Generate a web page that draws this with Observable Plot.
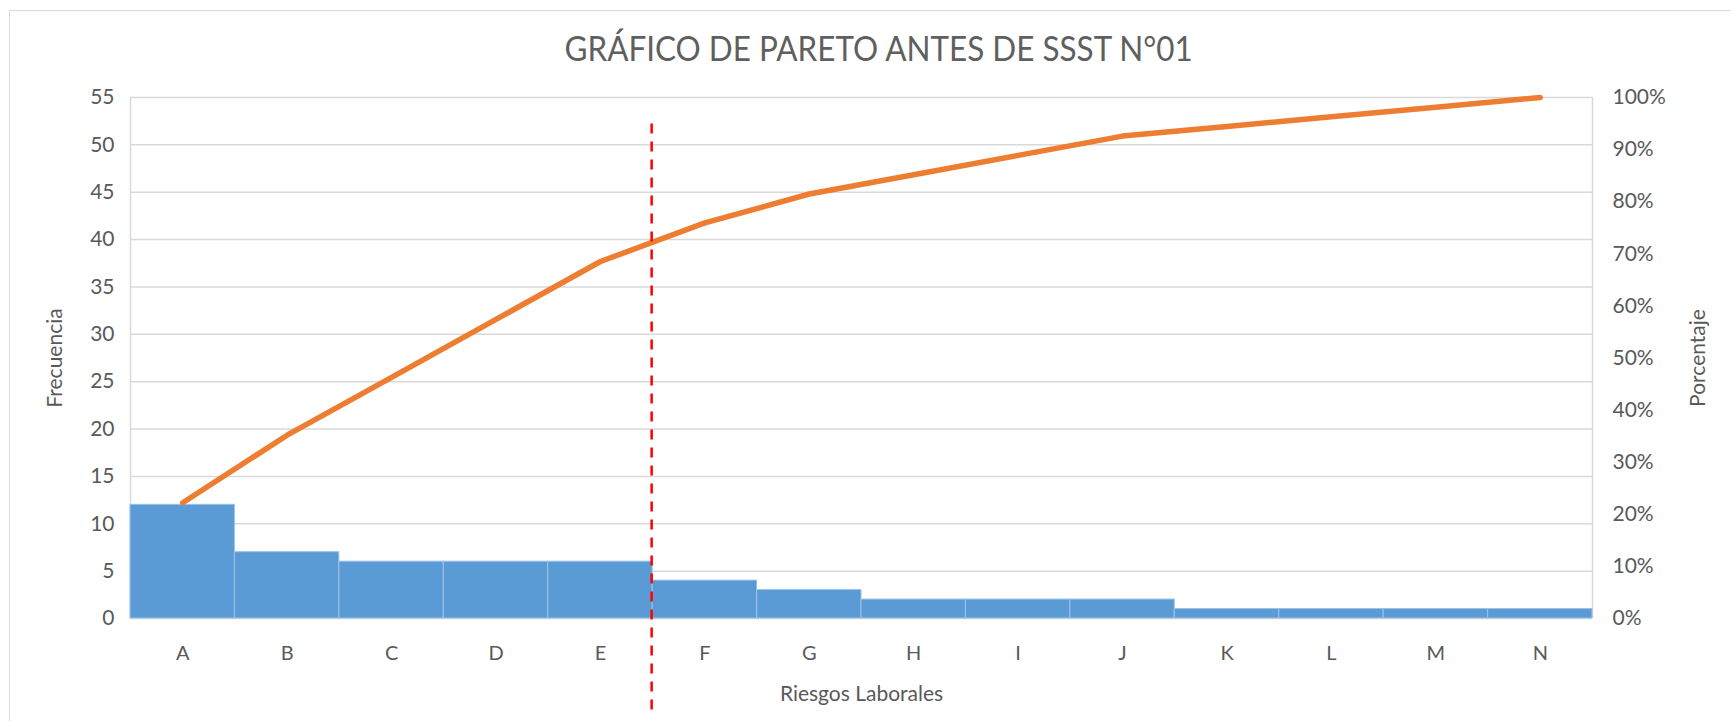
<!DOCTYPE html>
<html>
<head>
<meta charset="utf-8">
<script src="https://cdn.jsdelivr.net/npm/d3@7"></script>
<script src="https://cdn.jsdelivr.net/npm/@observablehq/plot@0.6"></script>
<style>
  html, body { margin: 0; padding: 0; background: #fff; }
  #wrap { position: relative; width: 1731px; height: 721px; overflow: hidden; font-family: Lato, "Open Sans", sans-serif; }
  #frame { position: absolute; left: 9px; top: 10px; width: 1740px; height: 740px; border: 1px solid #d9d9d9; box-sizing: border-box; }
  #title { position: absolute; left: 13px; top: 0; width: 1731px; height: 70px; text-align: center; line-height: 96px; font-size: 34px; color: #5f5f5f; }
  #title span { display: inline-block; transform: scaleX(0.925); transform-origin: center; }
  #chart { position: absolute; left: 0; top: 70px; }
</style>
</head>
<body>
<div id="wrap">
  <div id="frame"></div>
  <div id="title"><span>GRÁFICO DE PARETO ANTES DE SSST N°01</span></div>
  <div id="chart"></div>
</div>
<script>
// Data
const categories = ["A","B","C","D","E","F","G","H","I","J","K","L","M","N"];
const frequencies = [12, 7, 6, 6, 6, 4, 3, 2, 2, 2, 1, 1, 1, 1];
const leftTicks = [0,5,10,15,20,25,30,35,40,45,50,55];
const pctTicks = [0,10,20,30,40,50,60,70,80,90,100];
const leftMax = 55;
const cutoffIndex = 5;           // boundary between E and F
const cutoffSpan = [52.2, -10];  // vertical extent of the dashed cutoff (left-axis units)

const total = d3.sum(frequencies);
let run = 0;
const rows = categories.map((c, i) => {
  run += frequencies[i];
  return {cat: c, i, freq: frequencies[i], cumPct: run / total * 100};
});
// cumulative % expressed on the left axis (100% ↔ leftMax)
const toLeft = p => p / 100 * leftMax;

const chart = Plot.plot({
  width: 1731,
  height: 651,
  marginTop: 27,
  marginBottom: 103,
  marginLeft: 130,
  marginRight: 139,
  style: {fontFamily: "Lato, 'Open Sans', sans-serif", color: "#595959", background: "transparent"},
  x: {type: "linear", domain: [0, categories.length], axis: null},
  y: {domain: [0, leftMax], axis: null},
  marks: [
    Plot.ruleY(leftTicks, {stroke: "#d9d9d9", strokeWidth: 1.5}),
    Plot.ruleX([0, categories.length], {stroke: "#d9d9d9", strokeWidth: 1.5}),
    Plot.rectY(rows, {x1: "i", x2: d => d.i + 1, y1: 0, y2: "freq", fill: "#5b9bd5", stroke: "#9cc2e8", strokeWidth: 1}),
    Plot.line(rows, {x: d => d.i + 0.5, y: d => toLeft(d.cumPct), stroke: "#ed7d31", strokeWidth: 5.5, strokeLinecap: "round", strokeLinejoin: "round"}),
    Plot.ruleX([cutoffIndex], {y1: cutoffSpan[0], y2: cutoffSpan[1], dx: -1, stroke: "#ff0000", strokeWidth: 2.5, strokeDasharray: "10,8"}),
    Plot.axisY(leftTicks, {anchor: "left", tickSize: 0, tickPadding: 16, fontSize: 21, label: null, color: "#595959"}),
    Plot.axisY(pctTicks.map(toLeft), {anchor: "right", tickSize: 0, tickPadding: 20, fontSize: 21, label: null, color: "#595959", tickFormat: d => Math.round(d / leftMax * 100) + "%"}),
    Plot.axisX(categories.map((c, i) => i + 0.5), {anchor: "bottom", tickSize: 0, tickPadding: 27, fontSize: 20, label: null, color: "#595959", tickFormat: d => categories[Math.floor(d)]}),
    Plot.text(["Frecuencia"], {frameAnchor: "left", textAnchor: "middle", dx: -75, rotate: -90, fontSize: 21, fill: "#595959"}),
    Plot.text(["Porcentaje"], {frameAnchor: "right", textAnchor: "middle", dx: 106, rotate: -90, fontSize: 21, fill: "#595959"}),
    Plot.text(["Riesgos Laborales"], {frameAnchor: "bottom", textAnchor: "middle", dy: 82, fontSize: 21, fill: "#595959"})
  ]
});
document.getElementById("chart").appendChild(chart);
</script>
</body>
</html>
